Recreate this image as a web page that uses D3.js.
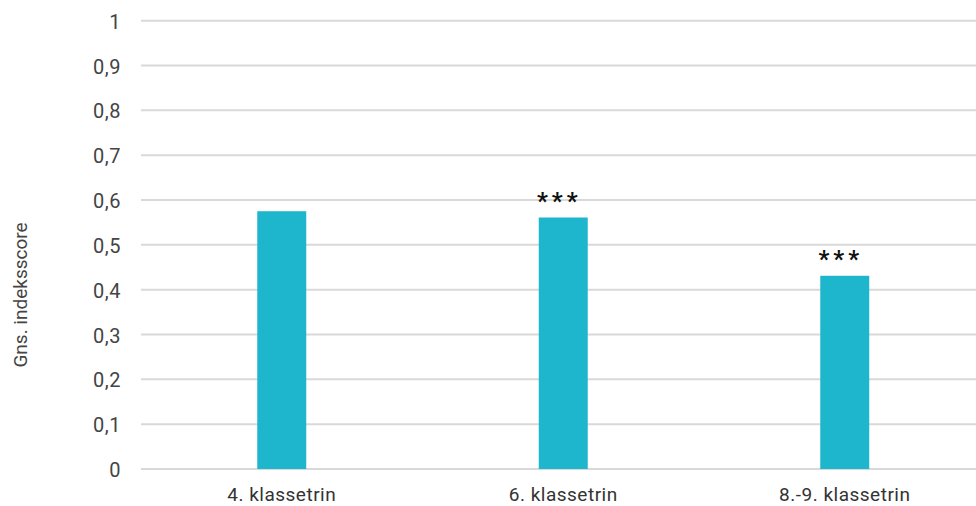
<!DOCTYPE html>
<html>
<head>
<meta charset="utf-8">
<script src="https://cdn.jsdelivr.net/npm/d3@7"></script>
<style>
  html, body { margin: 0; padding: 0; background: #ffffff; }
  svg { display: block; }
</style>
</head>
<body>
<svg id="chart" width="976" height="506"></svg>
<script>
const categories = ["4. klassetrin", "6. klassetrin", "8.-9. klassetrin"];
const values = [0.575, 0.561, 0.431];
const significance = ["", "***", "***"];
const yTicks = [0, 0.1, 0.2, 0.3, 0.4, 0.5, 0.6, 0.7, 0.8, 0.9, 1];
const yTitle = "Gns. indeksscore";

const W = 976, H = 506;
const svg = d3.select("#chart");
const fontFamily = "Roboto, 'Open Sans', 'DejaVu Sans', sans-serif";

const y = d3.scaleLinear().domain([0, 1]).range([469, 20.7]);
const x = d3.scaleBand().domain(categories).range([141, 985.5])
  .paddingInner(0.826).paddingOuter(0.413);

// grid lines
svg.append("g").selectAll("line").data(yTicks).join("line")
  .attr("x1", 141).attr("x2", W)
  .attr("y1", d => y(d)).attr("y2", d => y(d))
  .attr("stroke", "#d9d9d9").attr("stroke-width", 2);

// y axis tick labels
const fmt = d => d === 0 ? "0" : d === 1 ? "1" : d3.format(".1f")(d).replace(".", ",");
svg.append("g").selectAll("text").data(yTicks).join("text")
  .attr("x", 121).attr("y", d => y(d))
  .attr("dy", "0.4em")
  .attr("text-anchor", "end")
  .attr("font-family", fontFamily).attr("font-size", 20)
  .attr("letter-spacing", "0.5px")
  .attr("fill", "#444")
  .text(fmt);

// bars
svg.append("g").selectAll("rect").data(values).join("rect")
  .attr("x", (d, i) => x(categories[i]))
  .attr("width", x.bandwidth())
  .attr("y", d => y(d))
  .attr("height", d => y(0) - y(d))
  .attr("fill", "#1db6cc");

// significance markers
svg.append("g").selectAll("text").data(values).join("text")
  .attr("x", (d, i) => x(categories[i]) + x.bandwidth() / 2)
  .attr("y", d => y(d) - 9)
  .attr("dx", -4)
  .attr("text-anchor", "middle")
  .attr("font-family", fontFamily).attr("font-size", 24)
  .attr("font-weight", "bold")
  .attr("letter-spacing", "4px")
  .attr("fill", "#111")
  .text((d, i) => significance[i]);

// x axis labels
svg.append("g").selectAll("text").data(categories).join("text")
  .attr("x", d => x(d) + x.bandwidth() / 2)
  .attr("y", 501)
  .attr("text-anchor", "middle")
  .attr("font-family", fontFamily).attr("font-size", 19)
  .attr("letter-spacing", "0.5px")
  .attr("fill", "#333")
  .text(d => d);

// y axis title
svg.append("text")
  .attr("transform", "translate(27,295) rotate(-90)")
  .attr("text-anchor", "middle")
  .attr("font-family", fontFamily).attr("font-size", 19)
  .attr("fill", "#444")
  .text(yTitle);
</script>
</body>
</html>
